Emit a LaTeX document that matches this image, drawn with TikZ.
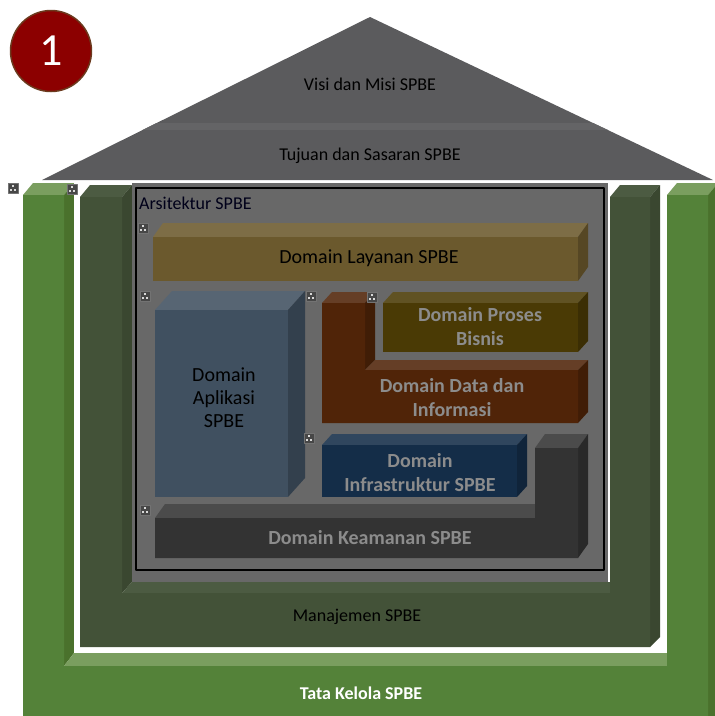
\documentclass[tikz,border=0pt]{standalone}
\usepackage{fontspec}
\setmainfont{Carlito}
\definecolor{badge}{HTML}{8C0000}
\definecolor{badgerim}{HTML}{6B3A1E}
\definecolor{roof}{HTML}{5B5B5D}
\definecolor{roofline}{HTML}{646466}
\definecolor{tata}{HTML}{548239}
\definecolor{tatalight}{HTML}{7A9E5F}
\definecolor{tatadark}{HTML}{4A712C}
\definecolor{mana}{HTML}{435238}
\definecolor{manalight}{HTML}{4C5B42}
\definecolor{manadark}{HTML}{3A4730}
\definecolor{arsi}{HTML}{686868}
\definecolor{layanan}{HTML}{6B592D}
\definecolor{aplikasi}{HTML}{405060}
\definecolor{datainfo}{HTML}{502408}
\definecolor{proses}{HTML}{4A3A05}
\definecolor{infra}{HTML}{142D48}
\definecolor{keamanan}{HTML}{333333}
\definecolor{dimtext}{HTML}{8C8C8C}
% 3D box: x1, y1 (top of lid), x2, y2 (bottom), dx, dy, colour
\newcommand\dombox[7]{%
  \fill[#7!88!white] (#1,#2+#6) -- (#1+#5,#2) -- (#3+#5,#2) -- (#3,#2+#6) -- cycle;
  \fill[#7!80!black] (#3,#2+#6) -- (#3+#5,#2) -- (#3+#5,#4-#6) -- (#3,#4) -- cycle;
  \fill[#7] (#1,#2+#6) rectangle (#3,#4);}
\begin{document}
\begin{tikzpicture}[x=1pt,y=-1pt,line join=round]
	\tikzset{every node/.style={inner sep=0pt,align=center,font=\fontsize{18}{22}\selectfont},
		big/.style={font=\fontsize{20}{23}\selectfont},
		dim/.style={text=dimtext,font=\fontsize{20}{24}\selectfont\bfseries},
		handle/.pic={\fill[black!72,draw=black!55,line width=0.6pt] (-5,-5) rectangle (5,5);
			\fill[black!15] (-1,-3.2) rectangle (1,-1.2);
			\fill[black!15] (-3.2,1.2) rectangle (-1.2,3.2);
			\fill[black!15] (1.2,1.2) rectangle (3.2,3.2);}}
	\useasboundingbox (0,0) rectangle (715,716);
	% roof
	\fill[roof] (42,180) -- (370,17) -- (713,180) -- cycle;
	\begin{scope}
		\clip (42,180) -- (370,17) -- (713,180) -- cycle;
		\fill[roofline] (0,123) rectangle (715,130);
	\end{scope}
	\node (visi) at (370,84) {Visi dan Misi SPBE};
	\node (tujuan) at (370,156) {Tujuan dan Sasaran SPBE};
	% Tata Kelola
	\fill[tatalight] (23,195) -- (33,183) -- (74,183) -- (64,195) -- cycle;
	\fill[tatalight] (667,195) -- (677,183) -- (718,183) -- (708,195) -- cycle;
	\fill[tatadark] (64,195) -- (74,183) -- (74,653) -- (64,666) -- cycle;
	\fill[tatalight] (64,666) -- (74,653) -- (677,653) -- (667,666) -- cycle;
	\fill[tatadark] (708,195) -- (718,183) -- (718,716) -- (708,716) -- cycle;
	\fill[tata] (23,716) -- (23,195) -- (64,195) -- (64,666) -- (667,666) -- (667,195) -- (708,195) -- (708,716) -- cycle;
	\node[text=white,font=\fontsize{18}{22}\selectfont\bfseries] (tatakelola) at (361,693) {Tata Kelola SPBE};
	% Manajemen
	\fill[white] (74,181) rectangle (667,653);
	\fill[manalight] (80,197) -- (90,185) -- (132,185) -- (122,197) -- cycle;
	\fill[manadark] (122,197) -- (132,185) -- (132,582) -- (122,593) -- cycle;
	\fill[manalight] (122,593) -- (132,582) -- (620,582) -- (610,593) -- cycle;
	\fill[manalight] (610,197) -- (620,185) -- (660,185) -- (650,197) -- cycle;
	\fill[manadark] (650,197) -- (660,185) -- (660,637) -- (650,647) -- cycle;
	\fill[mana] (80,647) -- (80,197) -- (122,197) -- (122,593) -- (610,593) -- (610,197) -- (650,197) -- (650,647) -- cycle;
	\node (manajemen) at (357,617) {Manajemen SPBE};
	% Arsitektur
	\fill[arsi] (132,183) rectangle (608,582);
	\draw[line width=2.2pt] (136,188) rectangle (604,570);
	\node[anchor=west,text=black!90!blue] (arsitektur) at (139,203) {Arsitektur SPBE};
	% domains
	\dombox{153}{223}{578}{281}{10}{14}{layanan}
	\dombox{155}{291}{288}{497}{17}{19}{aplikasi}
	\dombox{383}{292}{578}{352}{10}{11}{proses}
	\dombox{322}{434}{517}{497}{10}{11}{infra}
	% data dan informasi (L)
	\fill[datainfo!88!white] (322,303) -- (332,292) -- (375,292) -- (365,303) -- cycle;
	\fill[datainfo!80!black] (365,303) -- (375,292) -- (375,360) -- (365,370) -- cycle;
	\fill[datainfo!88!white] (365,370) -- (375,360) -- (588,360) -- (578,370) -- cycle;
	\fill[datainfo!80!black] (578,370) -- (588,360) -- (588,412) -- (578,423) -- cycle;
	\fill[datainfo] (322,303) -- (365,303) -- (365,370) -- (578,370) -- (578,423) -- (322,423) -- cycle;
	% keamanan (L)
	\fill[keamanan!88!white] (155,518) -- (165,504) -- (545,504) -- (535,518) -- cycle;
	\fill[keamanan!88!white] (535,448) -- (545,434) -- (588,434) -- (578,448) -- cycle;
	\fill[keamanan!80!black] (578,448) -- (588,434) -- (588,544) -- (578,558) -- cycle;
	\fill[keamanan] (155,518) -- (535,518) -- (535,448) -- (578,448) -- (578,558) -- (155,558) -- cycle;
	\node[big] (layanan) at (369,258) {Domain Layanan SPBE};
	\node[big] (aplikasi) at (224,398) {Domain\\Aplikasi\\SPBE};
	\node[dim] (proses) at (480,327) {Domain Proses\\Bisnis};
	\node[dim] (datainfo) at (452,398) {Domain Data dan\\Informasi};
	\node[dim] (infra) at (420,473) {Domain\\Infrastruktur SPBE};
	\node[dim] (keamanan) at (370,538) {Domain Keamanan SPBE};
	% handles
	\foreach \p in {(13,188),(72,189),(143,228),(145,296),(311,296),(372,297),(309,438),(145,510)}
		\pic at \p {handle};
	% badge
	\node[circle,fill=badge,draw=badgerim,line width=1.5pt,minimum size=81pt,text=white,
		font=\fontsize{46}{46}\selectfont] (nomor) at (51,51) {1};
\end{tikzpicture}
\end{document}
